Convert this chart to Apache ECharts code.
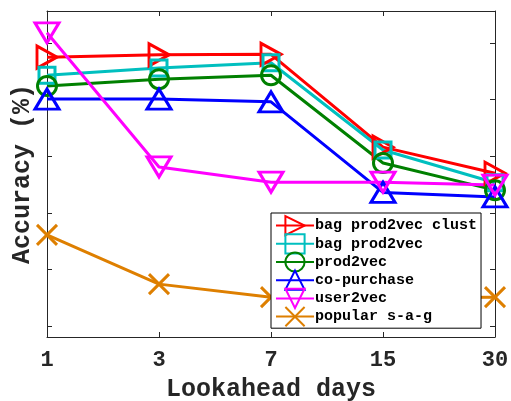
<!DOCTYPE html>
<html>
<head>
<meta charset="utf-8">
<script src="https://cdn.jsdelivr.net/npm/echarts@6/dist/echarts.min.js"></script>
<style>html,body{margin:0;padding:0;background:#fff}#c{width:511px;height:401px}</style>
</head>
<body>
<div id="c"></div>
<script>
const categories = ['1', '3', '7', '15', '30'];
const bagProd2vecClust = [4.75, 4.79, 4.80, 3.16, 2.70];
const bagProd2vec = [4.43, 4.56, 4.65, 3.11, 2.53];
const prod2vec = [4.24, 4.36, 4.43, 2.88, 2.40];
const coPurchase = [4.01, 4.01, 3.96, 2.36, 2.28];
const user2vec = [5.18, 2.81, 2.54, 2.54, 2.49];
const popularSAG = [1.61, 0.74, 0.51, 0.50, 0.51];
const yTicks = [0, 1, 2, 3, 4, 5];

const FONT = '"Liberation Mono", "DejaVu Sans Mono", monospace';
const AX = '#262626';
const crossPath = 'path://M0,0L10,10M10,0L0,10';

function mk(name, data, color, symbol, size, rotate) {
  return {
    name: name, type: 'line', data: data,
    symbol: symbol, symbolSize: size, symbolRotate: rotate || 0,
    showAllSymbol: true,
    lineStyle: { color: color, width: 3 },
    itemStyle: { color: 'rgba(255,255,255,0)', borderColor: color, borderWidth: 3 },
    emphasis: { disabled: true },
    animation: false
  };
}

const series = [
  mk('bag prod2vec clust', bagProd2vecClust, '#FF0000', 'triangle', [22, 20], -90),
  mk('bag prod2vec', bagProd2vec, '#00BFBF', 'rect', [16, 16], 0),
  mk('prod2vec', prod2vec, '#008000', 'circle', [19, 19], 0),
  mk('co-purchase', coPurchase, '#0000FF', 'triangle', [24, 20], 0),
  mk('user2vec', user2vec, '#FF00FF', 'triangle', [24, 20], 180),
  mk('popular s-a-g', popularSAG, '#DE7F00', crossPath, [20, 20], 0)
];

const chart = echarts.init(document.getElementById('c'), null, { renderer: 'canvas' });
chart.setOption({
  backgroundColor: '#fff',
  animation: false,
  grid: { left: 47, right: 16, top: 11, bottom: 64, containLabel: false, outerBoundsMode: 'none' },
  legend: {
    orient: 'vertical', left: 271, top: 213, width: 211,
    padding: [2, 4, 1, 4], itemGap: -3, itemWidth: 38, itemHeight: 24,
    backgroundColor: '#fff', borderColor: '#000', borderWidth: 1,
    textStyle: { fontFamily: FONT, fontWeight: 'bold', fontSize: 15, color: '#000', padding: [0, 0, 0, -4], lineHeight: 18 },
    data: series.map(s => s.name)
  },
  xAxis: [{
    type: 'category', data: categories, boundaryGap: false,
    name: 'Lookahead days', nameLocation: 'middle', nameGap: 40,
    nameTextStyle: { fontFamily: FONT, fontWeight: 'bold', fontSize: 25, color: AX },
    axisLine: { onZero: false, lineStyle: { color: AX, width: 1 } },
    axisTick: { inside: true, length: 5, alignWithLabel: true, lineStyle: { color: AX } },
    axisLabel: { fontFamily: FONT, fontWeight: 'bold', fontSize: 22, color: AX, margin: 12 },
    splitLine: { show: false }
  }, {
    type: 'category', data: categories, boundaryGap: false, position: 'top',
    axisLine: { onZero: false, lineStyle: { color: AX, width: 1 } },
    axisTick: { inside: true, length: 5, lineStyle: { color: AX } },
    axisLabel: { show: false }, splitLine: { show: false }
  }],
  yAxis: [{
    type: 'value', min: -0.194, max: 5.565,
    name: 'Accuracy (%)', nameLocation: 'middle', nameGap: 12, nameRotate: 90,
    nameTextStyle: { fontFamily: FONT, fontWeight: 'bold', fontSize: 25, color: AX },
    axisLine: { show: true, onZero: false, lineStyle: { color: AX, width: 1 } },
    axisTick: { show: true, inside: true, length: 5, customValues: yTicks, lineStyle: { color: AX } },
    axisLabel: { show: false },
    splitLine: { show: false }
  }, {
    type: 'value', min: -0.194, max: 5.565, position: 'right',
    axisLine: { show: true, onZero: false, lineStyle: { color: AX, width: 1 } },
    axisTick: { show: true, inside: true, length: 5, customValues: yTicks, lineStyle: { color: AX } },
    axisLabel: { show: false },
    splitLine: { show: false }
  }],
  series: series
});
</script>
</body>
</html>
